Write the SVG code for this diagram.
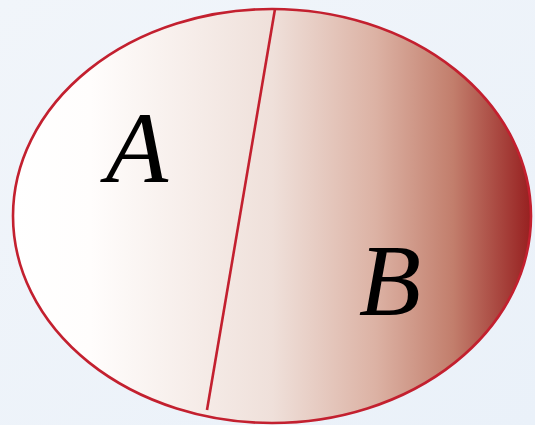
<svg xmlns="http://www.w3.org/2000/svg" width="535" height="425" viewBox="0 0 535 425">
  <defs>
    <linearGradient id="bg" x1="0" y1="0" x2="1" y2="1">
      <stop offset="0" stop-color="#f1f5fa"/>
      <stop offset="1" stop-color="#eaf1f9"/>
    </linearGradient>
    <linearGradient id="shade" gradientUnits="userSpaceOnUse" x1="13" y1="0" x2="531" y2="0">
      <stop offset="0" stop-color="#ffffff"/>
      <stop offset="0.15" stop-color="#fffdfc"/>
      <stop offset="0.5" stop-color="#efe0da"/>
      <stop offset="0.7" stop-color="#dcb2a4"/>
      <stop offset="0.85" stop-color="#c27e6c"/>
      <stop offset="1" stop-color="#972020"/>
    </linearGradient>
    <style>
      .edge { stroke: #c3202f; stroke-width: 2.6; }
      .set { fill: url(#shade); }
      .line { fill: none; }
      .lbl { font-family: "Liberation Serif", "DejaVu Serif", serif; font-style: italic; font-weight: normal; font-size: 102px; fill: #000; text-anchor: middle; }
    </style>
  </defs>
  <rect width="535" height="425" fill="url(#bg)"/>
  <g id="set">
    <ellipse cx="272" cy="216" rx="259" ry="207" class="set edge"/>
  </g>
  <g id="connectors">
    <line x1="275" y1="9" x2="207" y2="410" class="line edge"/>
  </g>
  <g id="A">
    <text class="lbl" x="137" y="182">A</text>
  </g>
  <g id="B">
    <text class="lbl" x="390" y="315">B</text>
  </g>
</svg>
